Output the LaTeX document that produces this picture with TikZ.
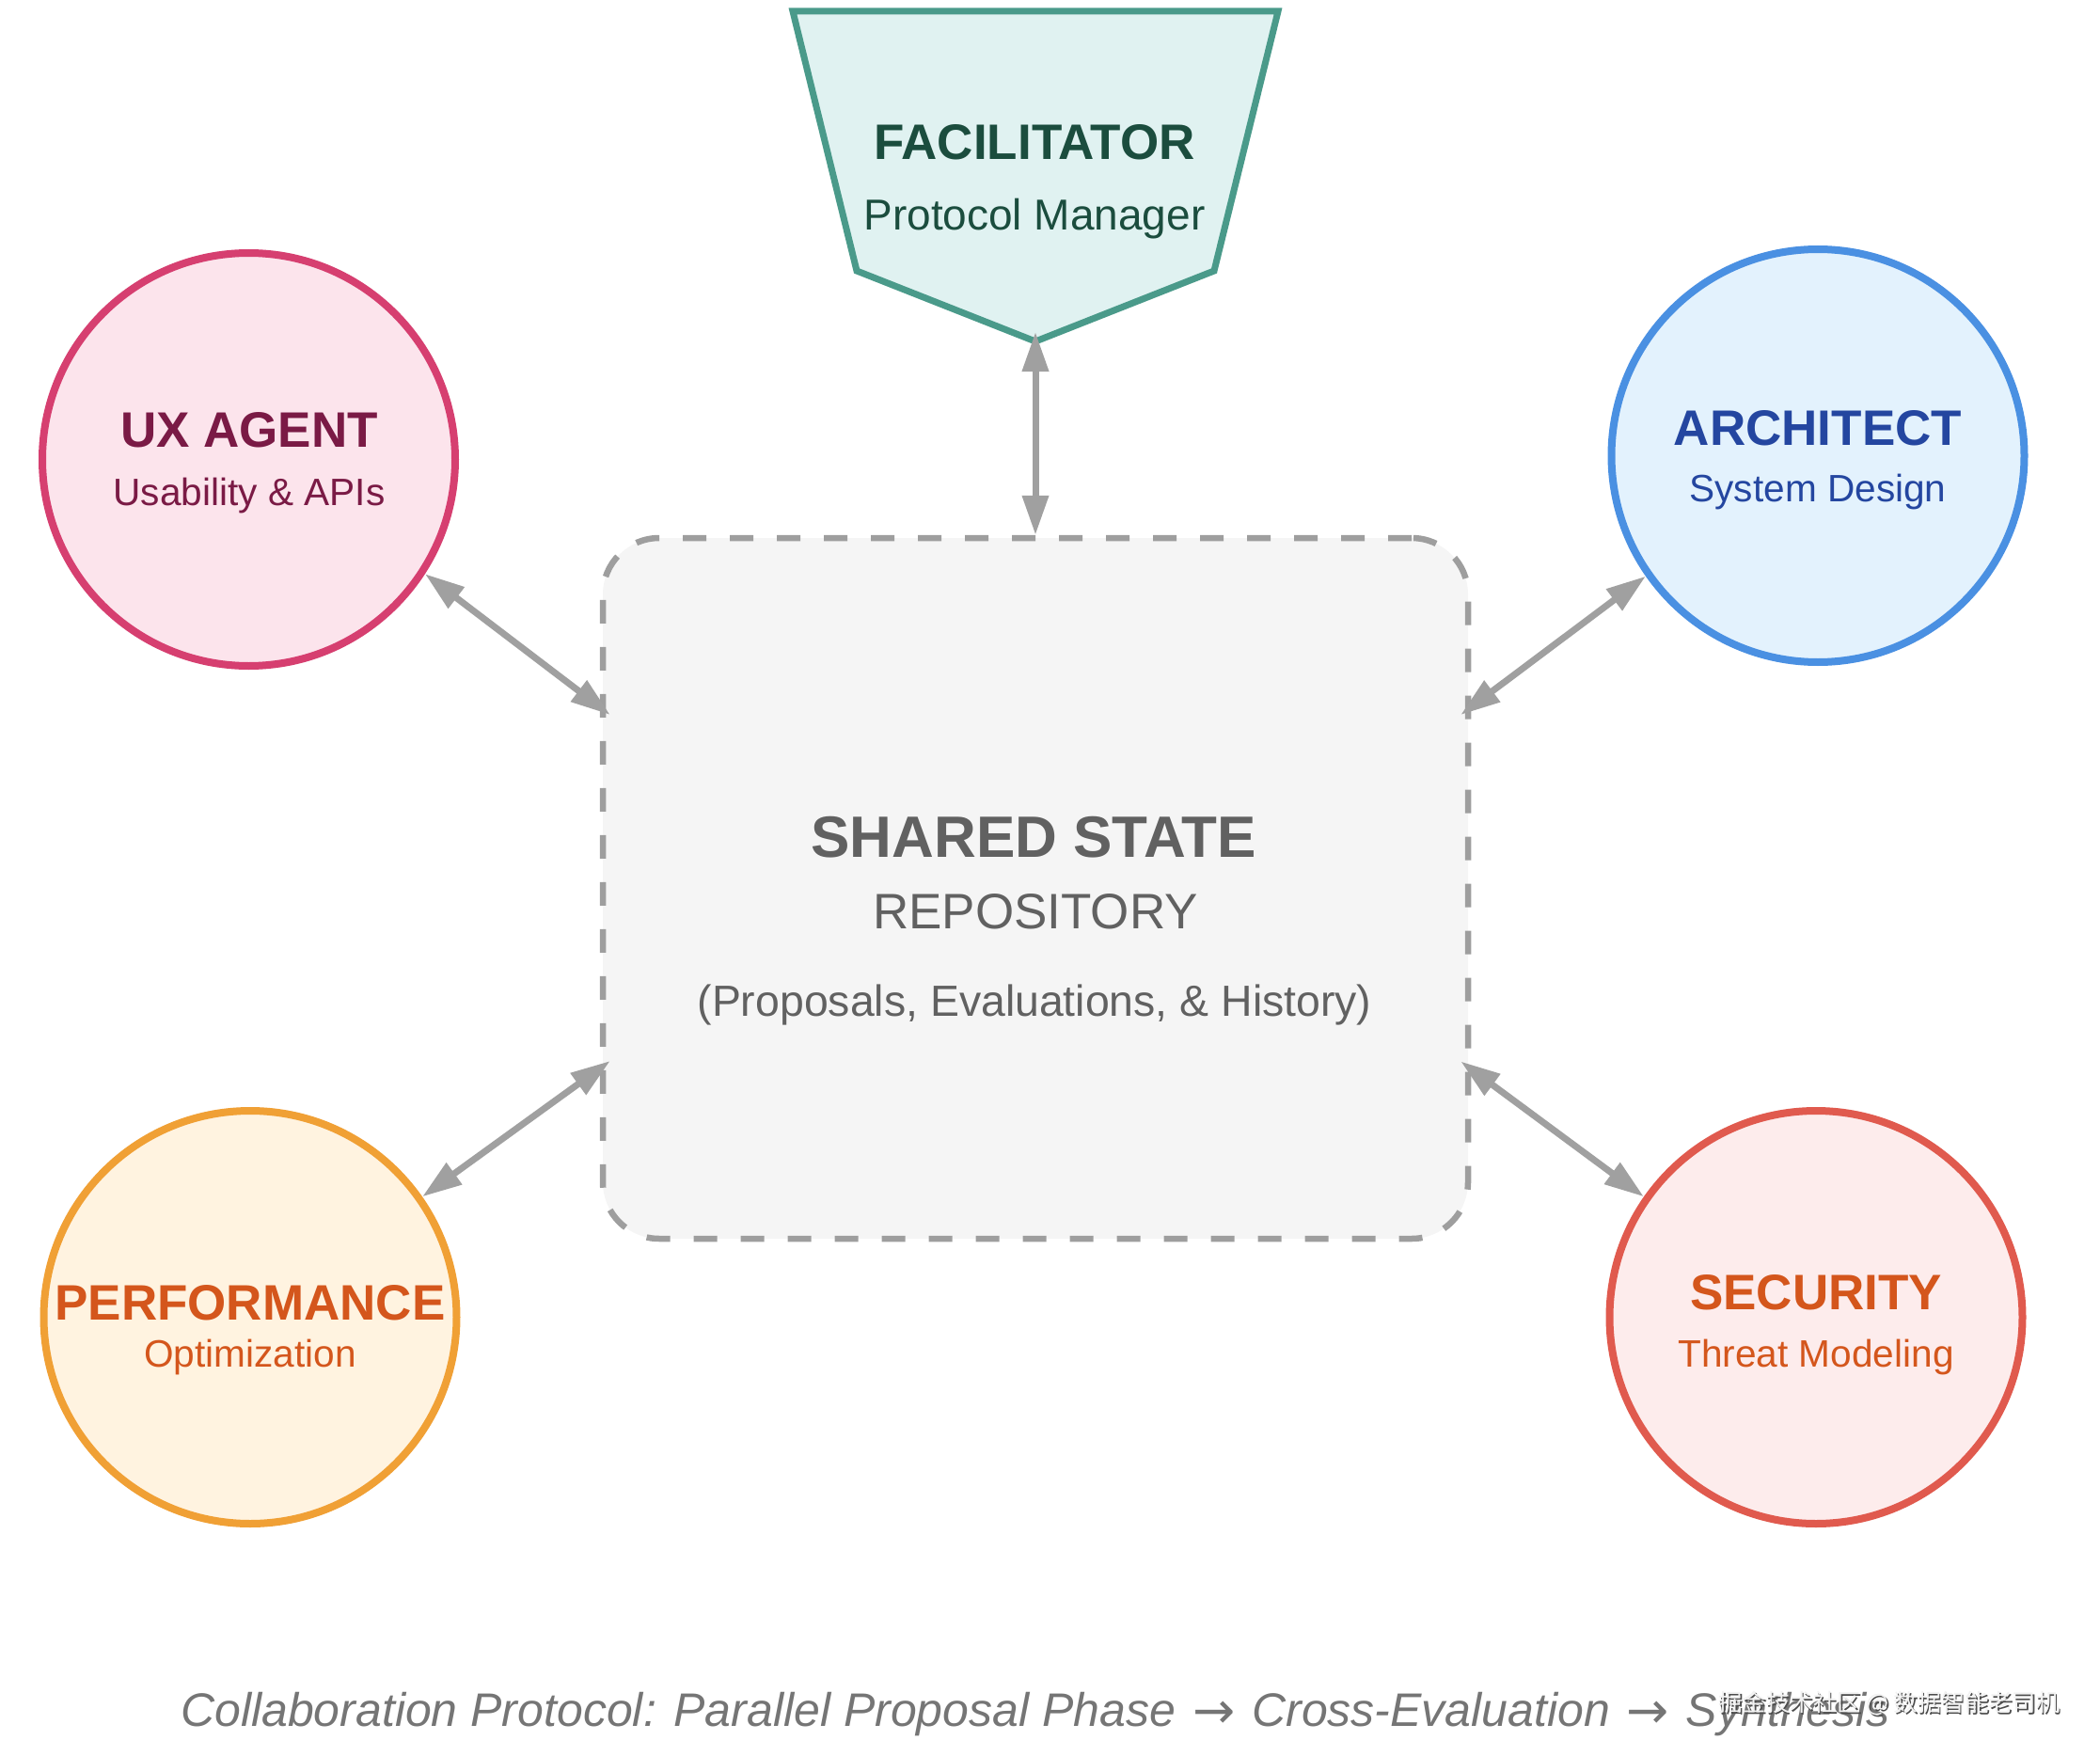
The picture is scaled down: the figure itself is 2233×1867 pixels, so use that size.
\documentclass[tikz,border=0pt]{standalone}
\usepackage{fontspec}
\setmainfont{Liberation Sans}
\newfontfamily\cjkfont{Noto Sans CJK SC}
\newfontfamily\arrowfont{DejaVu Sans}
\usetikzlibrary{arrows.meta,calc}
\definecolor{uxline}{HTML}{D63F70}
\definecolor{uxfill}{HTML}{FCE4EC}
\definecolor{uxtext}{HTML}{7A1A45}
\definecolor{arline}{HTML}{4A90E2}
\definecolor{arfill}{HTML}{E3F2FD}
\definecolor{artext}{HTML}{2446A0}
\definecolor{peline}{HTML}{F0A035}
\definecolor{pefill}{HTML}{FFF3E0}
\definecolor{petext}{HTML}{D4561C}
\definecolor{seline}{HTML}{E05A4E}
\definecolor{sefill}{HTML}{FDECEC}
\definecolor{setext}{HTML}{D4561C}
\definecolor{faline}{HTML}{4A9A8A}
\definecolor{fafill}{HTML}{E0F2F1}
\definecolor{fatext}{HTML}{1B4D3E}
\definecolor{boxline}{HTML}{9E9E9E}
\definecolor{boxfill}{HTML}{F5F5F5}
\definecolor{boxtext}{HTML}{616161}
\definecolor{arrowgray}{HTML}{A0A0A0}
\definecolor{captext}{HTML}{757575}
\newcommand{\caparrow}{\hspace{2pt}{\arrowfont\fontsize{27}{30}\selectfont\raisebox{-1pt}{→}}\hspace{2pt}}
\begin{document}
\begin{tikzpicture}[x=0.5pt,y=-0.5pt,
  agent/.style={circle,draw=#1line,fill=#1fill,line width=4pt,minimum size=219.5pt,inner sep=0pt},
  titletext/.style={anchor=base,inner sep=0pt,text=#1,font=\fontsize{26.5}{30}\selectfont\bfseries},
  subtext/.style={anchor=base,inner sep=0pt,text=#1,font=\fontsize{20.3}{24}\selectfont},
  conn/.style={draw=arrowgray,line width=3.5pt,{Triangle[length=21pt,width=13.5pt]}-{Triangle[length=21pt,width=13.5pt]}}
]
\useasboundingbox (0,0) rectangle (2233,1867);

% shared state box
\node[draw=boxline,fill=boxfill,line width=3.25pt,dash pattern=on 12.5pt off 12.5pt,
      rounded corners=30pt,minimum width=460pt,minimum height=372.5pt,inner sep=0pt] (box) at (1101,944.5) {};
\node[anchor=base,inner sep=0pt,text=boxtext,font=\fontsize{31}{34}\selectfont\bfseries] (boxT) at (1099,911) {SHARED STATE};
\node[anchor=base,inner sep=0pt,text=boxtext,font=\fontsize{26.5}{30}\selectfont] (boxS) at (1101,987) {REPOSITORY};
\node[anchor=base,inner sep=0pt,text=boxtext,font=\fontsize{23.2}{28}\selectfont] (boxD) at (1100,1080) {(Proposals, Evaluations, \& History)};

% facilitator
\draw[draw=faline,fill=fafill,line width=3.5pt,line join=miter]
  (843,12) -- (1359,12) -- (1291,288) -- (1101,363) -- (911,288) -- cycle;
\coordinate (facbot) at (1101,353);
\node[anchor=base,inner sep=0pt,text=fatext,font=\fontsize{26.5}{30}\selectfont\bfseries] (facT) at (1100,170) {FACILITATOR};
\node[anchor=base,inner sep=0pt,text=fatext,font=\fontsize{23}{28}\selectfont] (facS) at (1100,245) {Protocol Manager};

% agents
\node[agent=ux] (ux) at (264.5,488.5) {};
\node[titletext=uxtext] (uxT) at (265,475) {UX AGENT};
\node[subtext=uxtext] (uxS) at (265,537) {Usability \& APIs};

\node[agent=ar] (ar) at (1933,484.5) {};
\node[titletext=artext] (arT) at (1933,473) {ARCHITECT};
\node[subtext=artext] (arS) at (1933,533) {System Design};

\node[agent=pe] (pe) at (266,1400.5) {};
\node[titletext=petext] (peT) at (266,1403) {PERFORMANCE};
\node[subtext=petext] (peS) at (266,1453) {Optimization};

\node[agent=se] (se) at (1931,1400.5) {};
\node[titletext=setext] (seT) at (1931,1392) {SECURITY};
\node[subtext=setext] (seS) at (1931,1453) {Threat Modeling};

% connectors
\draw[conn] (box.north) -- (facbot);
\draw[conn] (ux.-33) -- ($(box.west)+(11,-184.5)$);
\draw[conn] (ar.-145.5) -- ($(box.east)+(-11,-184.5)$);
\draw[conn] (pe.35) -- ($(box.west)+(11,183.5)$);
\draw[conn] (se.145) -- ($(box.east)+(-11,184)$);

% caption
\node[anchor=base,inner sep=0pt,text=captext,font=\fontsize{25}{30}\selectfont\itshape] (cap) at (1101,1835)
  {Collaboration Protocol: Parallel Proposal Phase \caparrow{} Cross-Evaluation \caparrow{} Synthesis};

% watermark
\node[inner sep=0pt,text=black!70,font=\cjkfont\fontsize{12.6}{16}\selectfont] (wmS) at (2010.5,1812.5) {掘金技术社区 @ 数据智能老司机};
\node[inner sep=0pt,text=white!95!black,font=\cjkfont\fontsize{12.6}{16}\selectfont] (wm) at (2009,1811) {掘金技术社区 @ 数据智能老司机};
\end{tikzpicture}
\end{document}
